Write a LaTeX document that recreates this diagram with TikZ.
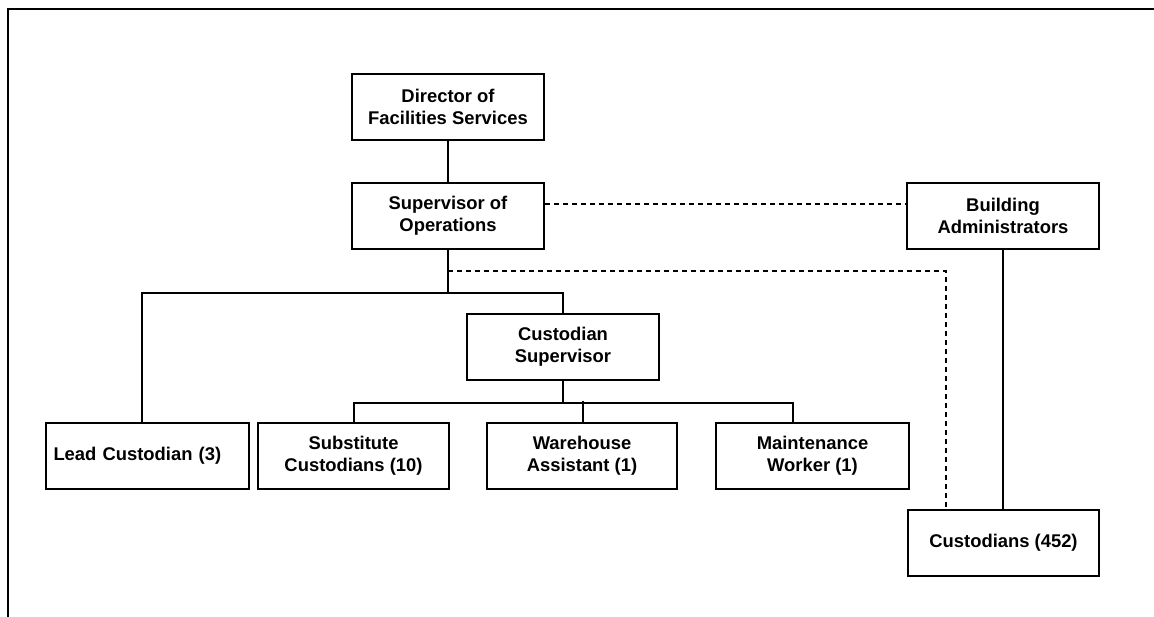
\documentclass[tikz,border=0pt]{standalone}
\usepackage{fontspec}
\setmainfont{Liberation Sans}

\begin{document}
\begin{tikzpicture}[
  x=0.5pt, y=0.5pt,
  font=\bfseries\fontsize{9.2}{11}\selectfont,
  box/.style={draw, line width=1.2pt, align=center, minimum width=96pt,
    minimum height=33pt, inner sep=2pt},
  conn/.style={line width=1pt},
  liaison/.style={line width=1pt, dash pattern=on 2.5pt off 2pt},
  frame/.style={line width=1pt},
]
\useasboundingbox (0,0) rectangle (1154,-616);
\draw[frame] (7.5,-630) |- (1170,-8.5);

% --- Top of the chart ---
\node[box] (dir) at (448,-107) {Director of\\Facilities Services};
\node[box] (sup) at (448,-216) {Supervisor of\\Operations};
\node[box] (ba) at (1003,-216) {Building\\Administrators};

% --- Middle ---
\node[box] (cs) at (563,-347) {Custodian\\Supervisor};

% --- Bottom row ---
\node[box, minimum width=101.5pt, text width=94pt, align=left] (lead) at (147.5,-456) {Lead Custodian (3)};
\node[box, minimum width=95.5pt] (sub) at (353.5,-456) {Substitute\\Custodians (10)};
\node[box, minimum width=95pt] (ware) at (582,-456) {Warehouse\\Assistant (1)};
\node[box, minimum width=96.5pt] (maint) at (812.5,-456) {Maintenance\\Worker (1)};
\node[box, minimum width=95.5pt] (cust) at (1003.5,-543) {Custodians (452)};

% --- Solid lines ---
\draw[conn] (dir) -- (sup);
\draw[conn] (sup.south) -- ++(0,-43) -| ([xshift=-2.75pt]lead.north);
\draw[conn] (sup.south) -- ++(0,-43) -| (cs.north);
\draw[conn] (cs.south) -- ++(0,-22) -| (sub.north);
\draw[conn] (cs.south) -- ++(0,-22) -| ([xshift=-9.75pt]maint.north);
\draw[conn] ([xshift=0.5pt,yshift=10.5pt]ware.north) -- ([xshift=0.5pt]ware.north);
\draw[conn] (ba) -- (ba |- cust.north);

% --- Dashed lines ---
\draw[liaison] ([yshift=6pt]sup.east) -- ([yshift=6pt]ba.west);
\draw[liaison] ([yshift=-10.5pt]sup.south) -| ([xshift=-28.75pt]cust.north);

\end{tikzpicture}
\end{document}
